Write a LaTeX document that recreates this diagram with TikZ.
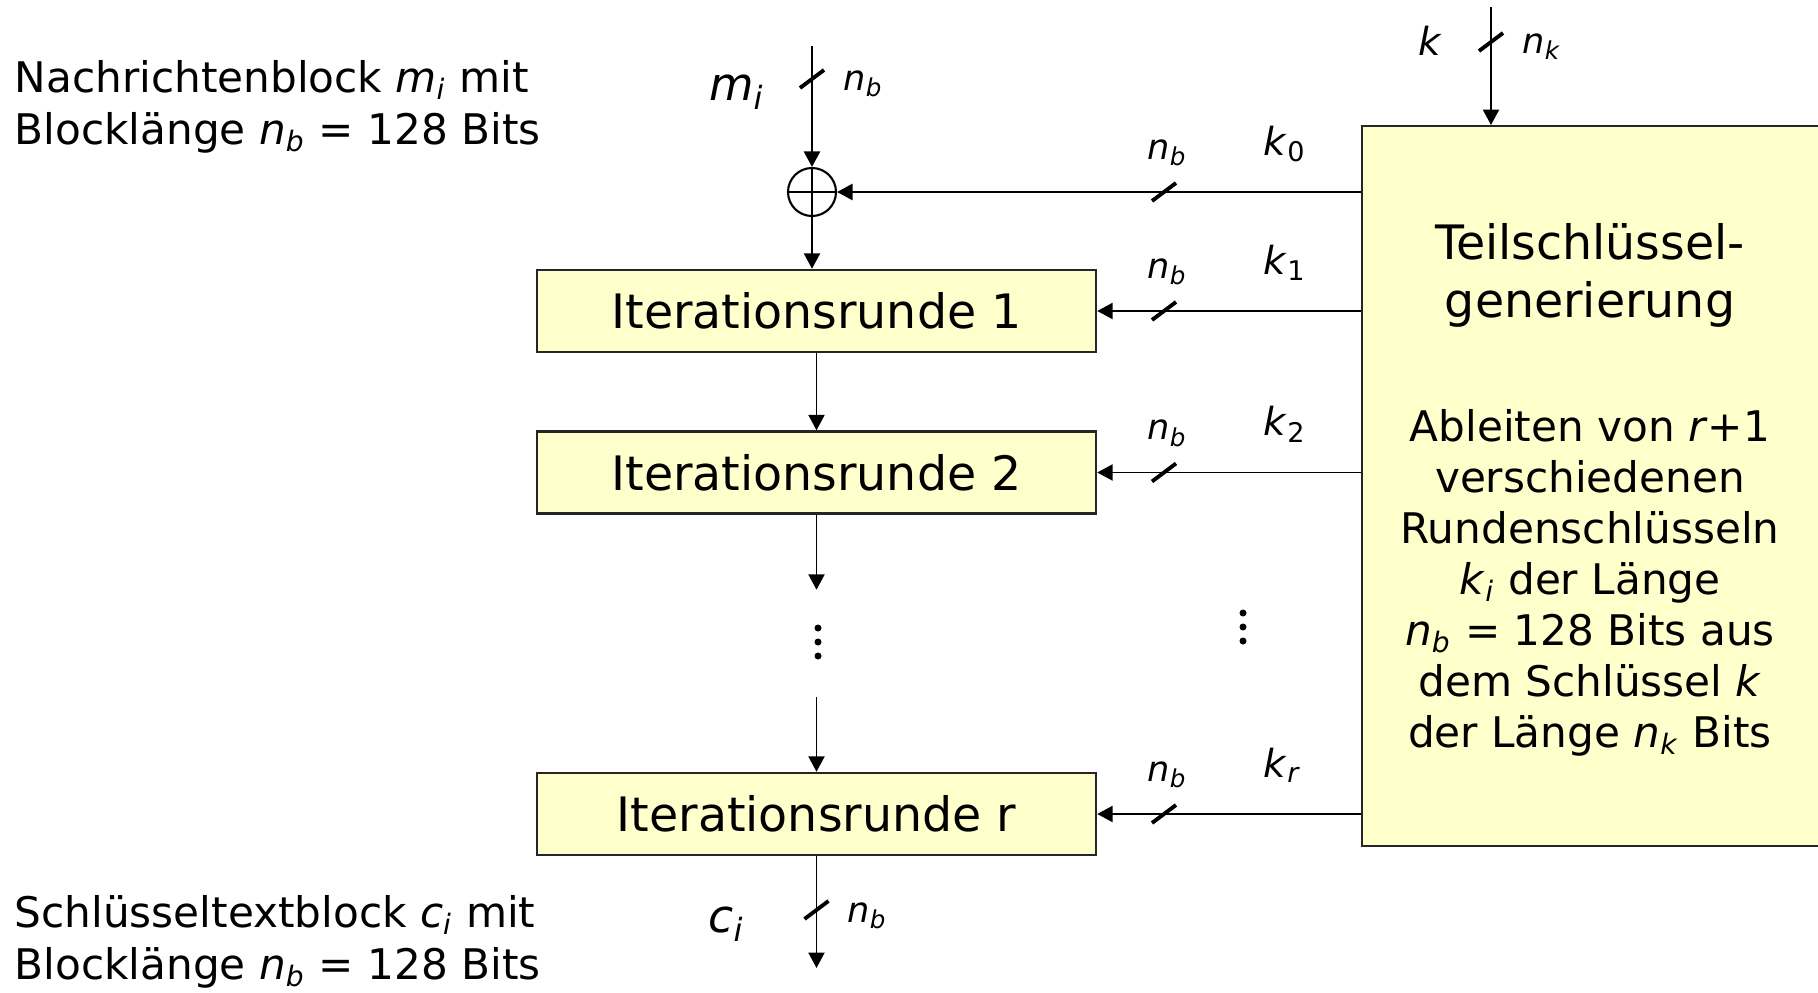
\documentclass[tikz,border=0pt]{standalone}
\usepackage{fontspec}
\setmainfont{DejaVu Sans}
\usetikzlibrary{arrows.meta,positioning}
\definecolor{boxyellow}{HTML}{FFFFCC}
\newcommand{\vsub}[2]{\textit{#1}\textsubscript{\textit{#2}}}
\newcommand{\busmark}[1]{\draw[bus-mark] (#1) ++(-0.12,-0.09) -- ++(0.24,0.18);}
\tikzset{
    round-box/.style = {draw=black!85, fill=boxyellow, line width=0.7pt, rectangle, minimum width=5.59cm, minimum height=0.82cm, font=\fontsize{13.5}{16}\selectfont},
    key-box/.style = {draw=black!85, fill=boxyellow, line width=0.7pt, rectangle, minimum width=4.8cm, minimum height=7.2cm},
    xor-circle/.style = {draw, circle, line width=0.6pt, minimum size=0.48cm, inner sep=0pt,
        path picture={\draw[line width=0.5pt] (path picture bounding box.north) -- (path picture bounding box.south)
            (path picture bounding box.west) -- (path picture bounding box.east);}},
    flow/.style = {-{Triangle[length=4.4pt,width=4.6pt]}, line width=0.5pt},
    bus-mark/.style = {line width=1.1pt},
    side-text/.style = {align=left, inner sep=0pt, font=\fontsize{12}{14.8}\selectfont},
    title-text/.style = {align=center, inner sep=0pt, font=\fontsize{13.5}{16.5}\selectfont},
    body-text/.style = {align=center, inner sep=0pt, font=\fontsize{12}{14.5}\selectfont},
    var-label/.style = {inner sep=0pt, font=\fontsize{13}{15}\selectfont},
    key-label/.style = {inner sep=0pt, font=\fontsize{11}{13}\selectfont},
    small-label/.style = {inner sep=0pt, font=\fontsize{10}{12}\selectfont},
}

\begin{document}
\begin{tikzpicture}
\useasboundingbox (0,0) rectangle (18.18,-9.93);
\clip (0,0) rectangle (18.18,-9.93);

% explanations on the left
\node[side-text, anchor=west] (msgtext) at (0.14,-1.07) {Nachrichtenblock \vsub{m}{i} mit\\Blocklänge \vsub{n}{b} = 128 Bits};
\node[side-text, anchor=west] (ciphtext) at (0.14,-9.42) {Schlüsseltextblock \vsub{c}{i} mit\\Blocklänge \vsub{n}{b} = 128 Bits};

% rounds
\coordinate (min) at (8.12,-0.46);
\node[xor-circle] (xor) at (8.12,-1.92) {};
\node[round-box] (round1) at (8.165,-3.11) {Iterationsrunde 1};
\node[round-box] (round2) at (8.165,-4.725) {Iterationsrunde 2};
\node[round-box] (roundr) at (8.165,-8.14) {Iterationsrunde r};
\coordinate (resume) at (8.165,-6.97);
\coordinate (cout) at (8.165,-9.68);

% key schedule
\node[key-box, anchor=north west] (keygen) at (13.61,-1.25) {};
\node[title-text] (keytitle) at (15.90,-2.75) {Teilschlüssel-\\generierung};
\node[body-text] (keydesc) at (15.90,-5.83) {Ableiten von \textit{r}+1\\verschiedenen\\Rundenschlüsseln\\\vsub{k}{i} der Länge\\\vsub{n}{b} = 128 Bits aus\\dem Schlüssel \textit{k}\\der Länge \vsub{n}{k} Bits};
\coordinate (kin) at (14.91,-0.07);
\coordinate (tick) at (11.64,0);

% data path
\draw[flow] (min) -- (xor);
\busmark{8.12,-0.79}
\node[var-label, anchor=base east] (mlabel) at (7.65,-1.00) {\vsub{m}{i}};
\node[small-label, anchor=base west] (mbits) at (8.43,-0.90) {\vsub{n}{b}};
\draw[flow] (xor) -- (xor |- round1.north);
\draw[flow] (round1) -- (round2);
\draw[flow] (round2.south) -- ++(0,-0.75);
\foreach \y in {6.28,6.42,6.56} \fill (8.18,-\y) circle (0.035);
\draw[flow] (resume) -- (roundr.north);
\draw[flow] (roundr) -- (cout);
\busmark{8.165,-9.10}
\node[var-label, anchor=base east] (clabel) at (7.45,-9.32) {\vsub{c}{i}};
\node[small-label, anchor=base west] (cbits) at (8.47,-9.22) {\vsub{n}{b}};

% key input and round keys
\draw[flow] (kin) -- (kin |- keygen.north);
\busmark{14.91,-0.42}
\node[key-label, anchor=base east] (klabel) at (14.43,-0.55) {\textit{k}};
\node[small-label, anchor=base west] (kbits) at (15.22,-0.53) {\vsub{n}{k}};
\foreach \target/\sub in {xor/0, round1/1, round2/2, roundr/{\textit{r}}} {
    \draw[flow] (keygen.west |- \target) -- (\target);
    \busmark{tick |- \target}
    \node[key-label, anchor=base west] (sub-\target) at ([yshift=0.37cm] 12.63,0 |- \target) {\textit{k}\textsubscript{\sub}};
    \node[small-label, anchor=base west] (bits-\target) at ([yshift=0.33cm] 11.47,0 |- \target) {\vsub{n}{b}};
}
\foreach \y in {6.13,6.27,6.41} \fill (12.43,-\y) circle (0.035);
\end{tikzpicture}
\end{document}
